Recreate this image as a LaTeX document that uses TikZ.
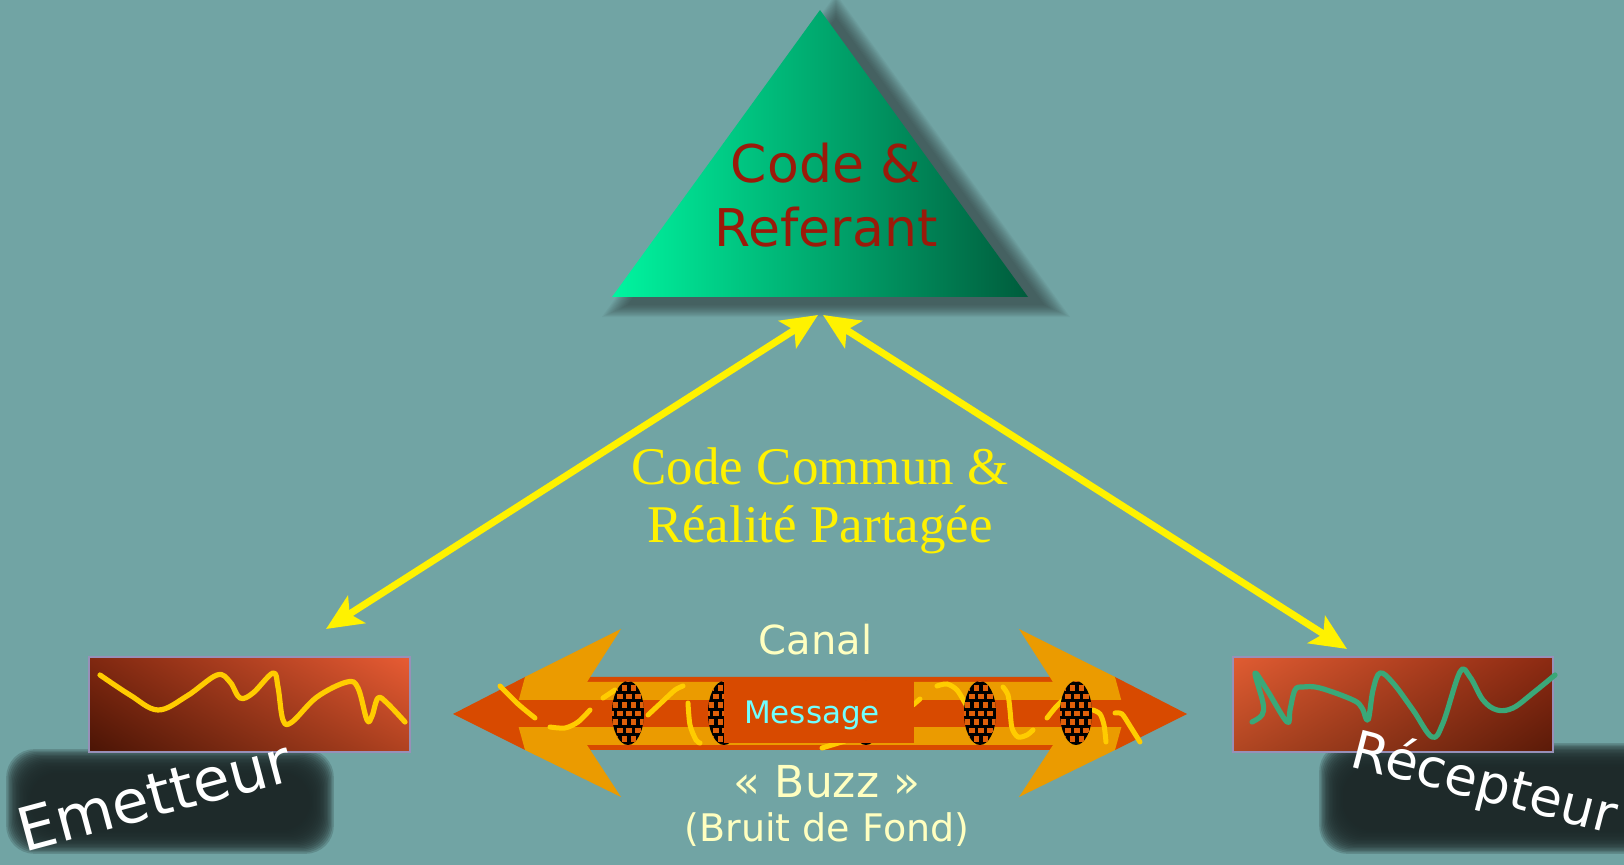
\documentclass[tikz,border=0pt]{standalone}
\usepackage{fontspec}
\setmainfont{DejaVu Sans}
\newfontfamily\timesf{Liberation Serif}
\usetikzlibrary{arrows.meta,shadings}
\definecolor{bg}{HTML}{71A4A4}
\definecolor{trL}{HTML}{00F5A0}
\definecolor{trR}{HTML}{005C3C}
\definecolor{codered}{HTML}{9B1A0A}
\definecolor{lorange}{HTML}{EB9B00}
\definecolor{dorange}{HTML}{D84A00}
\definecolor{squig}{HTML}{FFCC00}
\definecolor{sqc}{HTML}{E0600A}
\definecolor{msgc}{HTML}{70FFFF}
\definecolor{paleyel}{HTML}{FFFFC0}
\definecolor{boxedge}{HTML}{9890B8}
\definecolor{greenw}{HTML}{3AA878}
\definecolor{shadowc}{HTML}{1E2A2A}
\definecolor{trishadow}{HTML}{283030}
\newcommand\blobat[2]{%
  \begin{scope}
    \clip (#1,#2) ellipse [x radius=16, y radius=32];
    \fill[black] (#1-17,#2-33) rectangle (#1+17,#2+33);
    \foreach \j in {0,...,8}{\foreach \i in {0,...,4}{%
      \pgfmathsetmacro\xx{#1-20+\i*9+mod(\j,2)*4.5}%
      \pgfmathsetmacro\yy{#2-36+\j*8.5}%
      \fill[sqc] (\xx,\yy) rectangle ++(5.5,5.5);
    }}
  \end{scope}}
\newcommand\softbox[4]{%
  \foreach \k in {0,...,17}{%
    \fill[shadowc,opacity=0.2,rounded corners=14] ({#1-1.4*\k},{#2-1.4*\k}) rectangle ({#3+1.4*\k},{#4+1.4*\k});}}
\tikzset{
  yarrow/.style={draw=yellow,line width=3.5pt,
    {Stealth[length=18pt,width=16pt,inset=4pt]}-{Stealth[length=18pt,width=16pt,inset=4pt]}},
  squigline/.style={draw=squig,line width=2.5pt,line cap=round},
  wave/.style={line width=2.6pt,line cap=round,line join=round},
  boxframe/.style={draw=boxedge,line width=1pt},
  lbl/.style={inner sep=0pt,anchor=base},
}
\begin{document}
\begin{tikzpicture}[x=0.5pt,y=-0.5pt]
\useasboundingbox (0,0) rectangle (1624,865);
\fill[bg] (0,0) rectangle (1624,865);

% triangle shadow
\foreach \k in {0,...,14}{%
  \begin{scope}[shift={(836,209)},scale={1+0.009*\k}]
    \fill[trishadow,opacity=0.05] (0,-191) -- (-208,96) -- (208,96) -- cycle;
  \end{scope}}
% triangle
\shade[left color=trL,right color=trR] (820,10) -- (612,297) -- (1028,297) -- cycle;
\node[lbl,font=\fontsize{26}{32}\selectfont,text=codered] (code1) at (826,183) {Code \&};
\node[lbl,font=\fontsize{26}{32}\selectfont,text=codered] (code2) at (826,247) {Referant};

% middle text
\node[lbl,font=\timesf\fontsize{26.5}{30}\selectfont,text=yellow] (cc1) at (820,485) {Code Commun \&};
\node[lbl,font=\timesf\fontsize{26.5}{30}\selectfont,text=yellow] (cc2) at (820,543) {Réalité Partagée};

% yellow arrows
\coordinate (apexL) at (818,315);
\coordinate (apexR) at (823,315);
\coordinate (emtip) at (326,629);
\coordinate (retip) at (1347,649);
\draw[yarrow] (apexL) -- (emtip);
\draw[yarrow] (apexR) -- (retip);

% shadows of labels
\softbox{30}{773}{310}{830}
\softbox{1343}{767}{1660}{830}

% Emetteur box
\shade[upper right={rgb,255:red,232;green,92;blue,52},lower left={rgb,255:red,74;green,20;blue,5},
       upper left={rgb,255:red,128;green,40;blue,16},lower right={rgb,255:red,176;green,66;blue,32}]
  (89,657) rectangle (410,752);
\draw[boxframe] (89,657) rectangle (410,752);
\draw[wave,squig] plot[smooth,tension=0.6] coordinates {(100,675) (130,695) (158,710) (187,696) (217,675) (230,682) (240,698) (253,693) (273,673) (278,687) (283,720) (292,722) (317,697) (347,682) (358,688) (367,720) (372,716) (378,698) (387,703) (405,722)};

% Recepteur box
\shade[upper left={rgb,255:red,224;green,92;blue,50},lower right={rgb,255:red,90;green,26;blue,8},
       upper right={rgb,255:red,140;green,42;blue,18},lower left={rgb,255:red,176;green,70;blue,34}]
  (1233,657) rectangle (1553,752);
\draw[boxframe] (1233,657) rectangle (1553,752);
\draw[wave,greenw] plot[smooth,tension=0.6] coordinates {(1252,722) (1262,715) (1263,703) (1255,673) (1267,690) (1287,722) (1290,710) (1295,690) (1303,687) (1320,688) (1353,700) (1362,708) (1368,720) (1373,690) (1380,673) (1393,683) (1413,710) (1432,737) (1443,723) (1460,672) (1470,677) (1483,700) (1497,710) (1513,708) (1533,693) (1555,675)};

% channel
\fill[dorange] (453,714) -- (525,677) -- (1115,677) -- (1187,714) -- (1115,750) -- (525,750) -- cycle;
\fill[lorange] (621,629) -- (525,677) -- (515,714) -- (525,750) -- (621,797) -- (587,745) -- (1053,745)
  -- (1019,797) -- (1115,750) -- (1125,714) -- (1115,677) -- (1019,629) -- (1053,682) -- (587,682) -- cycle;
\fill[dorange] (505,700) rectangle (1135,727);
% noise squiggles
\draw[squigline] plot[smooth] coordinates {(500,686) (518,704) (535,718)};
\draw[squigline] plot[smooth] coordinates {(550,727) (565,728) (578,722) (590,710)};
\draw[squigline] plot[smooth] coordinates {(603,698) (615,690)};
\draw[squigline] plot[smooth] coordinates {(648,715) (662,702) (675,690) (683,686)};
\draw[squigline] plot[smooth] coordinates {(688,703) (690,725) (696,740) (700,743)};
\draw[squigline] (822,748) -- (845,741);
\draw[squigline] (913,705) -- (920,699);
\draw[squigline] plot[smooth] coordinates {(937,686) (947,684) (957,690) (965,703) (970,712)};
\draw[squigline] plot[smooth] coordinates {(1003,687) (1008,695) (1010,710) (1012,728) (1018,737) (1027,735) (1033,730)};
\draw[squigline] plot[smooth] coordinates {(1047,718) (1055,708) (1063,700)};
\draw[squigline] plot[smooth] coordinates {(1093,710) (1100,714) (1104,725) (1106,742)};
\draw[squigline] plot[smooth] coordinates {(1115,713) (1122,714) (1130,726) (1140,742)};
% blobs
\blobat{628}{713}
\blobat{724}{713}
\blobat{866}{713}
\blobat{980}{713}
\blobat{1076}{713}
% message
\fill[dorange] (724,681) rectangle (914,743);
\node[lbl,font=\fontsize{15.5}{18}\selectfont,text=msgc] (msg) at (812,724) {Message};

% channel labels
\node[lbl,font=\fontsize{20}{24}\selectfont,text=paleyel] (canal) at (815.5,655) {Canal};
\node[lbl,font=\fontsize{22}{26}\selectfont,text=paleyel] (buzz) at (827,798) {« Buzz »};
\node[lbl,font=\fontsize{19}{22}\selectfont,text=paleyel] (bruit) at (827,842) {(Bruit de Fond)};

% rotated labels
\node[lbl,font=\fontsize{30}{34}\selectfont,text=white,rotate=15] (emet) at (160,816) {Emetteur};
\node[lbl,font=\fontsize{26.5}{30}\selectfont,text=white,rotate=-14.5] (recep) at (1480,800) {Récepteur};
\end{tikzpicture}
\end{document}
